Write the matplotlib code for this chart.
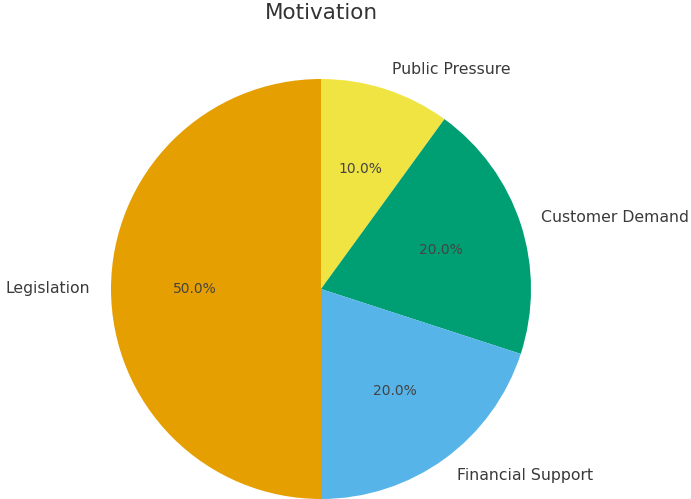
import matplotlib
matplotlib.use("Agg")
import matplotlib.pyplot as plt

# Share of respondents by primary motivation
labels = ["Public Pressure", "Customer Demand", "Financial Support", "Legislation"]
shares = [10, 20, 20, 50]
colors = ["#F0E442", "#009E73", "#56B4E9", "#E69F00"]

fig = plt.figure(figsize=(6.91, 4.99), dpi=100)
W, H = 691, 499
cx, cy, r = 321, 289, 210
ax = fig.add_axes([(cx - r) / W, (H - cy - r) / H, 2 * r / W, 2 * r / H])

wedges, texts, autotexts = ax.pie(
    shares, labels=labels, colors=colors, startangle=90, counterclock=False,
    autopct="%1.1f%%", textprops={"color": "#3a3a3a", "fontsize": 11.3},
)
for t in autotexts:
    t.set_fontsize(10)
    t.set_color("#444444")
ax.set_xlim(-1, 1)
ax.set_ylim(-1, 1)
ax.set_aspect("equal")
for w in wedges:
    w.set_clip_on(False)

fig.text(cx / W, 1 - 13 / H, "Motivation", ha="center", va="center",
         fontsize=15.5, color="#333333")

fig.savefig("out.png", dpi=100)
plt.close(fig)
